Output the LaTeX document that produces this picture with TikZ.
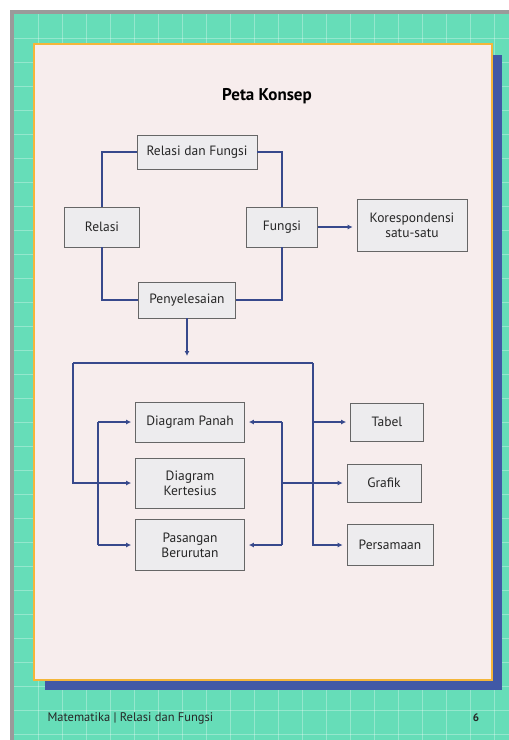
\documentclass[tikz,border=0pt]{standalone}
\usepackage{fontspec}
\setmainfont{PT Sans}
\usetikzlibrary{arrows.meta}
\definecolor{pagegreen}{HTML}{66DDB8}
\definecolor{pagegray}{HTML}{9A9A9A}
\definecolor{shadowblue}{HTML}{4159A6}
\definecolor{frameorange}{HTML}{F4B63A}
\definecolor{paperpink}{HTML}{F7EDED}
\definecolor{boxgray}{HTML}{EDECEE}
\definecolor{linkblue}{HTML}{37498C}
\tikzset{
  >=Latex,
  concept/.style={draw=black!60,fill=boxgray,line width=0.7pt,align=center,
    font=\fontsize{13.5}{15}\selectfont,text=black!85,inner sep=0pt},
  conn/.style={draw=linkblue,line width=2pt},
  arr/.style={conn,-{Latex[length=5pt,width=5pt]},shorten >=4pt},
}

\begin{document}
\begin{tikzpicture}[x=1pt,y=-1pt]
  \useasboundingbox (0,0) rectangle (509,740);
  % page
  \fill[white] (0,0) rectangle (509,740);
  \fill[pagegray] (10,10) rectangle (509,740);
  \fill[pagegreen] (14,14) rectangle (509,740);
  \foreach \g in {38,62,...,509}
    \draw[white,opacity=0.3,line width=0.7pt] (\g,14) -- (\g,740);
  \foreach \g in {38,62,...,740}
    \draw[white,opacity=0.3,line width=0.7pt] (14,\g) -- (509,\g);
  \fill[shadowblue] (45,55) rectangle (502,690);
  \draw[frameorange,fill=paperpink,line width=2.5pt] (34,44) rectangle (492,680);

  \node[font=\bfseries\fontsize{17}{19}\selectfont] (title) at (267,96) {Peta Konsep};

  % upper map
  \node[concept,minimum width=120pt,minimum height=34pt] (rdf)    at (197,152) {Relasi dan Fungsi};
  \node[concept,minimum width=75pt,minimum height=40pt]  (relasi) at (102,227) {Relasi};
  \node[concept,minimum width=71pt,minimum height=40pt]  (fungsi) at (282,227) {Fungsi};
  \node[concept,minimum width=110pt,minimum height=52pt] (kores)  at (412,225) {Korespondensi\\satu-satu};
  \node[concept,minimum width=97pt,minimum height=36pt]  (penyel) at (187,300) {Penyelesaian};

  \draw[conn] (relasi.north) |- (rdf.west);
  \draw[conn] (fungsi.north) |- (rdf.east);
  \draw[conn] (relasi.south) |- (penyel.west);
  \draw[conn] (fungsi.south) |- (penyel.east);
  \draw[arr] (fungsi.east) -- (kores.west |- fungsi.east);

  % lower map
  \node[concept,minimum width=109pt,minimum height=40pt] (dpanah) at (190,422) {Diagram Panah};
  \node[concept,minimum width=109pt,minimum height=50pt] (dkart)  at (190,483) {Diagram\\Kertesius};
  \node[concept,minimum width=109pt,minimum height=51pt] (pasang) at (190,545) {Pasangan\\Berurutan};
  \node[concept,minimum width=73pt,minimum height=38pt]  (tabel)  at (387,422) {Tabel};
  \node[concept,minimum width=74pt,minimum height=38pt]  (grafik) at (384,483) {Grafik};
  \node[concept,minimum width=86pt,minimum height=41pt]  (persam) at (390,545) {Persamaan};

  \coordinate (split) at (187,363);
  \coordinate (busl) at (73,363);
  \coordinate (busr) at (313,363);
  \coordinate (midr) at (282,483);
  \coordinate (midl) at (98,483);

  \draw[arr,shorten >=7pt] (penyel.south) -- (split);
  \draw[conn] (busl) -- (busr);
  \draw[arr] (busl) |- (dkart.west);
  \draw[arr] (busr) |- (persam.west);
  \draw[arr] (busr |- tabel.west) -- (tabel.west);

  \draw[conn] (midr |- dpanah.east) -- (midr |- pasang.east);
  \draw[arr] (midr |- dpanah.east) -- (dpanah.east);
  \draw[arr] (midr |- pasang.east) -- (pasang.east);
  \draw[arr] (midr) -- (grafik.west);

  \draw[conn] (midl |- dpanah.west) -- (midl |- pasang.west);
  \draw[arr] (midl |- dpanah.west) -- (dpanah.west);
  \draw[arr] (midl |- pasang.west) -- (pasang.west);

  % footer
  \node[anchor=west,font=\fontsize{12.5}{14}\selectfont,text=black!85] (foot) at (44,718) {Matematika | Relasi dan Fungsi};
  \node[font=\bfseries\fontsize{11}{12}\selectfont,text=black!85] (pageno) at (476,718) {6};
\end{tikzpicture}
\end{document}
